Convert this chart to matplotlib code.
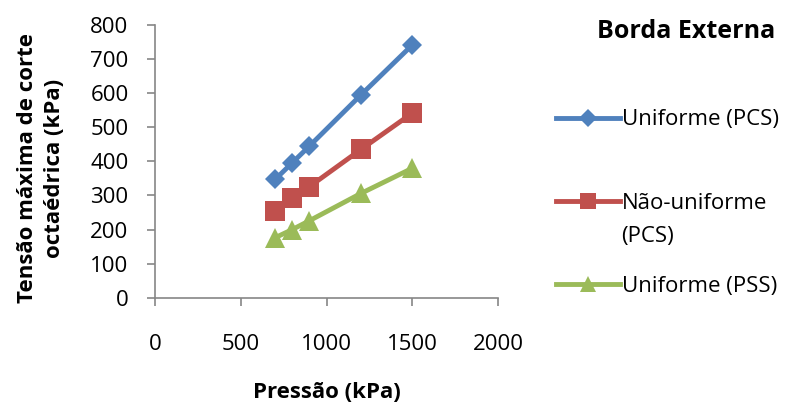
import matplotlib
matplotlib.use("Agg")
import matplotlib.pyplot as plt
from matplotlib.transforms import IdentityTransform

plt.rcParams['font.family'] = ['Open Sans', 'DejaVu Sans']

pressure = [700, 800, 900, 1200, 1500]
uniforme_pcs = [347, 396, 445, 595, 742]
nao_uniforme_pcs = [253, 292, 326, 435, 542]
uniforme_pss = [176, 200, 226, 306, 380]

series_names = ["Uniforme (PCS)", "Não-uniforme", "Uniforme (PSS)"]
colors = ["#4F81BD", "#C0504D", "#9BBB59"]
markers = ["D", "s", "^"]
msizes = [10.5, 14, 14]

FS = 16

fig = plt.figure(figsize=(7.91, 4.03), dpi=100)
ax = fig.add_axes([155/791, 1-297.7/403, (498.3-155)/791, (297.7-25)/403])

handles = []
for ys, c, m, ms, name in zip([uniforme_pcs, nao_uniforme_pcs, uniforme_pss], colors, markers, msizes, series_names):
    h, = ax.plot(pressure, ys, color=c, marker=m, markersize=ms, linewidth=3.5,
                 markeredgewidth=0, label=name)
    handles.append(h)

ax.set_xlim(0, 2000)
ax.set_ylim(0, 800)
ax.set_xticks([0, 500, 1000, 1500, 2000])
ax.set_yticks(range(0, 801, 100))
for s in ['top', 'right']:
    ax.spines[s].set_visible(False)
for s in ['left', 'bottom']:
    ax.spines[s].set_color('#868686')
    ax.spines[s].set_linewidth(1.2)
ax.tick_params(axis='both', colors='#868686', labelcolor='black', labelsize=FS, length=6, width=1.2)
ax.tick_params(axis='x', pad=20)
ax.tick_params(axis='y', pad=13)

ax.set_xlabel("Pressão (kPa)", fontsize=FS, fontweight='bold')
ax.xaxis.set_label_coords(0.5, -0.31)
ax.set_ylabel("Tensão máxima de corte\noctaédrica (kPa)", fontsize=FS, fontweight='bold',
              linespacing=1.35)
ax.yaxis.set_label_coords(-0.262, 0.475)

fig.text(686/791, 1-32/403, "Borda Externa", fontsize=18, fontweight='bold', ha='center', va='center')

leg = fig.legend(handles=handles, loc='center left', bbox_to_anchor=(556/791, 1-203/403),
                 frameon=False, fontsize=FS, labelspacing=2.8, handlelength=2.9,
                 handletextpad=0.05, markerscale=0.85, borderaxespad=0, borderpad=0)
fig.canvas.draw()
t = leg.get_texts()[1]
bb = t.get_window_extent()
fig.text(bb.x0, bb.y0 - 33, "(PCS)", fontsize=FS, ha='left', va='bottom',
         transform=IdentityTransform())

fig.savefig("out.png", dpi=100)
